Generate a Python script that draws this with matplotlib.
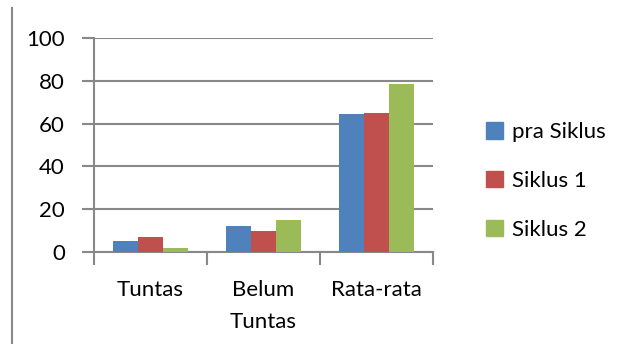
import numpy as np
import matplotlib.pyplot as plt
from matplotlib.patches import Rectangle
from matplotlib.lines import Line2D

categories = ["Tuntas", "Belum\nTuntas", "Rata-rata"]
series_names = ["pra Siklus", "Siklus 1", "Siklus 2"]
pra_siklus = [5, 12, 64.5]
siklus_1 = [7, 10, 65]
siklus_2 = [2, 15, 78.5]
colors = ["#4F81BD", "#C0504D", "#9BBB59"]
y_ticks = [0, 20, 40, 60, 80, 100]

plt.rcParams["font.family"] = ["Lato", "DejaVu Sans"]

fig = plt.figure(figsize=(6.17, 3.44), dpi=100)
W, H = 617, 344
ax = fig.add_axes([94 / W, 1 - 252 / H, (433 - 94) / W, (252 - 38) / H])

x = np.arange(len(categories))
bw = 0.22
for i, (vals, name) in enumerate(zip([pra_siklus, siklus_1, siklus_2], series_names)):
    ax.bar(x + (i - 1) * bw, vals, bw, color=colors[i], label=name, zorder=3)

ax.set_xlim(-0.5, 2.5)
ax.set_ylim(0, 100)
ax.set_yticks(y_ticks)
ax.set_yticklabels([str(t) for t in y_ticks], fontsize=16)
ax.yaxis.grid(True, color="#888888", linewidth=1.5, zorder=0)
ax.set_xticks([-0.5, 0.5, 1.5, 2.5])
ax.set_xticklabels([])
ax.set_xticks(x, minor=True)
ax.set_xticklabels(categories, minor=True, fontsize=16, linespacing=1.75)
ax.tick_params(axis="x", which="minor", length=0, pad=20)
ax.tick_params(axis="x", which="major", length=9, width=1.5, color="#888888")
ax.tick_params(axis="y", length=9, width=1.5, color="#888888", pad=12)
for s in ["top", "right"]:
    ax.spines[s].set_visible(False)
for s in ["left", "bottom"]:
    ax.spines[s].set_color("#888888")
    ax.spines[s].set_linewidth(1.5)

# legend
handles = [Rectangle((0, 0), 1, 1, color=c) for c in colors]
fig.legend(handles, series_names, loc="center left",
           bbox_to_anchor=(466 / W, 1 - 181 / H), frameon=False,
           fontsize=16, handlelength=0.75, handleheight=0.75,
           handletextpad=0.4, labelspacing=1.3)

# left border line
fig.add_artist(Line2D([12 / W, 12 / W], [0, 1 - 8 / H], color="#888888",
                      linewidth=1.5))

fig.savefig("out.png", dpi=100)
